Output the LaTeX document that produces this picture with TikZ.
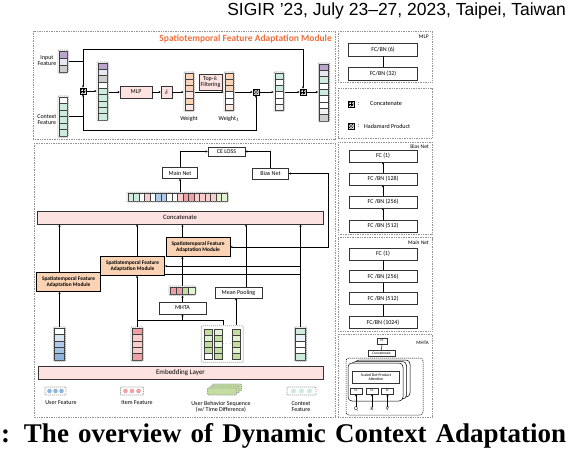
\documentclass[tikz,border=0pt]{standalone}
\usepackage{fontspec}
\setmainfont{Carlito}
\newfontfamily\headfont{Liberation Sans}
\newfontfamily\capfont{Liberation Serif}
\usetikzlibrary{arrows.meta, positioning, fit, calc, backgrounds}

\definecolor{cpurple}{RGB}{185,165,205}
\definecolor{cgray}{RGB}{205,205,205}
\definecolor{clav}{RGB}{232,232,242}
\definecolor{cmint}{RGB}{205,236,222}
\definecolor{cpeach}{RGB}{250,212,185}
\definecolor{cpeachl}{RGB}{252,232,225}
\definecolor{cbar}{RGB}{253,226,226}
\definecolor{corange}{RGB}{250,210,180}
\definecolor{ctitle}{RGB}{240,110,60}
\definecolor{cblue}{RGB}{140,180,222}
\definecolor{cbluem}{RGB}{175,202,232}
\definecolor{cbluel}{RGB}{215,228,242}
\definecolor{cred}{RGB}{240,160,165}
\definecolor{cpink}{RGB}{250,205,205}
\definecolor{cgreen}{RGB}{195,220,160}
\definecolor{cgreenl}{RGB}{228,240,210}

\newcommand{\fsz}[1]{\fontsize{#1}{#1}\selectfont}

% vertical feature vector: [group style] name, x, top y, cell w, cell h, colours
\newcommand{\fvec}[7][vgroup]{%
  \foreach \c [count=\i] in {#7}{%
    \node[cell, fill=\c, minimum width=#5pt, minimum height=#6pt] (#2-\i) at (#3,{#4+(\i-0.5)*#6}) {};
    \xdef\lastcell{\i}}
  \node[#1, fit=(#2-1)(#2-\lastcell)] (#2) {};}
% horizontal feature vector: name, left x, centre y, cell w, cell h, colours
\newcommand{\hvec}[6]{%
  \foreach \c [count=\i] in {#6}{%
    \node[cell, fill=\c, minimum width=#4pt, minimum height=#5pt] (#1-\i) at ({#2+(\i-0.5)*#4},#3) {};
    \xdef\lastcell{\i}}
  \node[vgroup, fit=(#1-1)(#1-\lastcell)] (#1) {};}

\begin{document}
\begin{tikzpicture}[x=1pt, y=-1pt,
    cell/.style={draw=black!75, line width=0.35pt, inner sep=0, outer sep=0},
    vgroup/.style={draw=gray!75, dash pattern=on 1.2pt off 0.8pt, line width=0.8pt, rounded corners=1pt, inner sep=1.1pt},
    nogroup/.style={inner sep=0},
    panel/.style={draw=gray!85, dash pattern=on 1pt off 0.7pt, line width=0.6pt},
    blk/.style={draw=black!80, line width=0.5pt, fill=white, inner sep=0.5pt, font=\fsz{6}, align=center},
    pinkbox/.style={blk, fill=cbar},
    sfam/.style={draw, line width=0.7pt, fill=corange, font=\fsz{5.4}\bfseries, align=center, inner sep=0.3pt, minimum width=64pt, minimum height=18.5pt},
    lbl/.style={font=\fsz{6}, align=center, inner sep=0},
    arr/.style={-{Stealth[length=2.2pt, width=2.2pt]}, line width=0.7pt},
    con/.style={line width=0.7pt},
    catsym/.style={draw, fill=gray!25, minimum size=6.5pt, inner sep=0, line width=0.4pt,
      path picture={\coordinate (pc) at (path picture bounding box.center);
        \draw[line width=0.35pt, fill=white] (pc) circle (2.2pt);
        \draw[line width=0.35pt] ([yshift=2.2pt]pc) -- ([yshift=-2.2pt]pc) ([xshift=-2.2pt]pc) -- ([xshift=2.2pt]pc);}},
    hadsym/.style={draw, fill=gray!25, minimum size=6.5pt, inner sep=0, line width=0.4pt,
      path picture={\coordinate (pc) at (path picture bounding box.center);
        \draw[line width=0.35pt, fill=white] (pc) circle (2.2pt);
        \draw[line width=0.35pt] ([shift={(1.55pt,1.55pt)}]pc) -- ([shift={(-1.55pt,-1.55pt)}]pc) ([shift={(-1.55pt,1.55pt)}]pc) -- ([shift={(1.55pt,-1.55pt)}]pc);}}
]
\useasboundingbox (0,0) rectangle (566,450);

% Page header and caption
\node[anchor=east, font=\headfont\fsz{17.5}, inner sep=0] (head) at (566,11) {SIGIR ’23, July 23–27, 2023, Taipei, Taiwan};
\node[anchor=base west, font=\capfont\bfseries\fsz{27}, inner sep=0] (caption) at (1,442) {\makebox[565pt][s]{: The overview of Dynamic Context Adaptation}};

% Panels
\draw[panel] (33,31) rectangle (335,139.5);
\draw[panel] (34,143) rectangle (335,417);
\draw[panel] (338,31) rectangle (432,82);
\draw[panel] (338,88) rectangle (432,138);
\draw[panel] (338,142) rectangle (432,234);
\draw[panel] (338,237.5) rectangle (432,331);
\draw[panel] (338,334) rectangle (432,417);

% Spatiotemporal feature adaptation module
\node[anchor=east, font=\fsz{9.5}\bfseries, text=ctitle, inner sep=0] (title) at (332,39) {Spatiotemporal Feature Adaptation Module};
\fvec{inp}{63}{51}{8}{7}{cpurple,clav,cgray}
\fvec{ctx}{63}{97}{8}{6.5}{white,cmint,cmint,cmint,cmint,cmint}
\node[lbl, anchor=east] (inplbl) at (56.5,60.5) {Input\\Feature};
\node[lbl, anchor=east] (ctxlbl) at (56.5,120) {Context\\Feature};
\node[catsym] (cat1) at (83,91) {};
\fvec{catv}{102.5}{63}{9}{6.3}{cpurple,clav,cgray,white,cmint,cmint,cmint,cmint,cmint}
\node[pinkbox, minimum width=32pt, minimum height=12pt] (mlp) at (136,92) {MLP};
\node[pinkbox, minimum width=11pt, minimum height=12pt] (sig) at (166.5,92) {$\delta$};
\fvec{wgt}{189}{73}{8}{6.2}{cpeach,cpeach,cpeach,cpeachl,cpeach,cpeachl}
\node[lbl] (wgtlbl) at (189,119) {Weight};
\node[pinkbox, minimum width=23pt, minimum height=16pt] (topk) at (210.5,82) {Top-$k$\\Filtering};
\fvec{wgtt}{229}{73}{8}{6.2}{cpeach,cpeach,cpeach,white,white,cpeachl}
\node[lbl] (wgttlbl) at (229,119) {Weight$_t$};
\node[hadsym] (had) at (256,92) {};
\fvec{hadv}{279}{73}{8}{6.2}{cmint,white,cmint,white,white,gray!10}
\node[catsym] (cat2) at (303,92) {};
\fvec{outv}{324}{64}{9}{6.3}{cpurple,clav,cmint,white,cmint,white,white,gray!10,cgray}

\coordinate (topbus) at (83,49);
\coordinate (botbus) at (83,130);
\draw[arr] (inp.east) -| (cat1.north);
\draw[arr] (ctx.east) -| (cat1.south);
\draw[arr] (inp.east -| cat1) -- (topbus) -| (cat2.north);
\draw[arr] (ctx.east -| cat1) -- (botbus) -| (had.south);
\draw[arr] (cat1) -- (cat1 -| catv.west);
\draw[arr] (catv.east |- mlp) -- (mlp);
\draw[arr] (mlp) -- (sig);
\draw[arr] (sig) -- (sig -| wgt.west);
\draw[arr] (wgt.east |- had) -- (wgtt.west |- had);
\draw[arr] (wgtt.east |- had) -- (had);
\draw[arr] (had) -- (had -| hadv.west);
\draw[arr] (hadv.east |- cat2) -- (cat2);
\draw[arr] (cat2) -- (cat2 -| outv.west);

% MLP
\node[lbl, anchor=east, font=\fsz{5.5}] (mlptag) at (429,37) {MLP};
\node[blk, minimum width=69pt, minimum height=13pt] (fc6) at (383,49.5) {FC/BN (6)};
\node[blk, minimum width=69pt, minimum height=13pt] (fc32) at (383,73.5) {FC/BN (32)};
\draw[con, line width=0.5pt] (fc32) -- (fc6);

% Symbols
\node[catsym] (legcat) at (351,104) {};
\node[lbl] (legcatc) at (358.5,104) {:};
\node[lbl, anchor=west, font=\fsz{6.2}] (legcatt) at (370,104) {Concatenate};
\node[hadsym] (leghad) at (351,126) {};
\node[lbl] (leghadc) at (358.5,126) {:};
\node[lbl, anchor=west, font=\fsz{6}] (leghadt) at (364,126) {Hadamard Product};

% Bias net
\node[lbl, anchor=east, font=\fsz{5.5}] (biastag) at (429,147) {Bias Net};
\node[blk, minimum width=68pt, minimum height=12pt] (bfc1) at (383,156) {FC (1)};
\node[blk, minimum width=68pt, minimum height=12pt] (bfc128) at (383,179) {FC /BN (128)};
\node[blk, minimum width=68pt, minimum height=12pt] (bfc256) at (383,202) {FC /BN (256)};
\node[blk, minimum width=68pt, minimum height=12pt] (bfc512) at (383,226) {FC /BN (512)};
\draw[arr, line width=0.5pt] (bfc512) -- (bfc256);
\draw[arr, line width=0.5pt] (bfc256) -- (bfc128);
\draw[arr, line width=0.5pt] (bfc128) -- (bfc1);

% Main net
\node[lbl, anchor=east, font=\fsz{5.5}\itshape] (maintag) at (429,242.5) {Main Net};
\node[blk, minimum width=68pt, minimum height=12pt] (mfc1) at (383,254) {FC (1)};
\node[blk, minimum width=68pt, minimum height=12pt] (mfc256) at (383,276.5) {FC /BN (256)};
\node[blk, minimum width=68pt, minimum height=12pt] (mfc512) at (383,298.5) {FC /BN (512)};
\node[blk, minimum width=68pt, minimum height=12pt] (mfc1024) at (383,322.5) {FC/BN (1024)};
\draw[con, line width=0.5pt] (mfc1024) -- (mfc512);
\draw[con, line width=0.5pt] (mfc512) -- (mfc256);
\draw[con, line width=0.5pt] (mfc256) -- (mfc1);

% MHTA
\node[lbl, anchor=east, font=\fsz{5}] (mhtatag) at (429,343) {MHTA};
\node[blk, minimum width=10pt, minimum height=6pt, font=\fsz{3}] (hfc) at (382,341) {FC};
\node[blk, minimum width=27pt, minimum height=6pt, font=\fsz{3.6}] (hcat) at (381.5,353) {Concatenate};
\draw[con, line width=0.5pt] (hcat) -- (hfc);
\draw[dash pattern=on 1.2pt off 0.8pt, line width=0.5pt, rounded corners=3pt] (346,358) rectangle (423,415);
\draw[line width=0.5pt, fill=white, rounded corners=4pt] (355,360) rectangle (410,397);
\draw[line width=0.5pt, fill=white, rounded corners=4pt] (351.5,361.5) rectangle (406.5,399);
\draw[line width=0.5pt, fill=white, rounded corners=4pt] (348,363) rectangle (403,401);
\node[blk, minimum width=47pt, minimum height=12pt, font=\fsz{3.9}] (sdpa) at (376,377) {Scaled Dot-Product\\Attention};
\node[blk, minimum width=12pt, minimum height=6pt, font=\fsz{3}] (hq) at (356,391) {FC};
\node[blk, minimum width=12pt, minimum height=6pt, font=\fsz{3}] (hk) at (372,391) {FC};
\node[blk, minimum width=12pt, minimum height=6pt, font=\fsz{3}] (hv) at (387.5,391) {FC};
\node[lbl, font=\fsz{5.5}] (lq) at (356,409) {Q};
\node[lbl, font=\fsz{5.5}] (lk) at (372,409) {K};
\node[lbl, font=\fsz{5.5}] (lv) at (387.5,409) {V};
\draw[arr, line width=0.5pt] (lq) -- (hq);
\draw[arr, line width=0.5pt] (lk) -- (hk);
\draw[arr, line width=0.5pt] (lv) -- (hv);

% Overall model
\node[blk, minimum width=37pt, minimum height=9pt] (ce) at (226.5,151.5) {CE LOSS};
\node[blk, minimum width=35pt, minimum height=11pt] (mainnet) at (180,173) {Main Net};
\node[blk, minimum width=36pt, minimum height=11pt] (biasnet) at (270.5,173.5) {Bias Net};
\draw[arr] (mainnet.north) |- (ce.west);
\draw[arr] (biasnet.north) |- (ce.east);
\hvec{joint}{128}{197}{5.5}{7.5}{cmint,cmint,white,cpink,white,cbluem,cbluem,white,white,cpink,cred,cred,cpink,cpink,cpink,cpink,cgreenl,cgreenl}
\draw[arr] (joint.north -| mainnet) -- (mainnet.south);
\node[pinkbox, minimum width=286pt, minimum height=13.5pt, font=\fsz{6.6}] (concat) at (180,217.5) {Concatenate};
\node[sfam] (sfam3) at (198,247) {Spatiotemporal Feature\\Adaptation Module};
\node[sfam] (sfam2) at (132.5,266) {Spatiotemporal Feature\\Adaptation Module};
\node[sfam, minimum height=19pt] (sfam1) at (68.5,282) {Spatiotemporal Feature\\Adaptation Module};

\fvec{user}{59.5}{328}{10}{6.4}{white,cbluel,cbluem,cblue!80,cblue}
\fvec{item}{137}{328}{10}{6.4}{cred,cpink,cpink,cpink,cred}
\fvec{ctxv}{300.5}{328}{10}{6.4}{cmint,cbluel!50,white,white,cmint}
\fvec[nogroup]{seqa}{208.5}{329}{8}{6}{cgreen,cgreenl,cgreen,cgreen,white}
\fvec[nogroup]{seqb}{218}{329}{8}{6}{cgreenl,cgreen,cgreenl,cgreen,cgreen}
\fvec[nogroup]{seqc}{236}{329}{8}{6}{cgreen,cgreenl,cgreen,cgreenl,cgreen}
\node[vgroup, fit=(seqa)(seqc), inner sep=3pt] (seq) {};
\node[lbl, font=\fsz{4}] (seqdots) at (227,344) {$\cdots$};
\node[blk, minimum width=47pt, minimum height=12pt] (mhta) at (182.5,308) {MHTA};
\hvec{att}{170}{290.5}{6.2}{7}{cred,cred,cgreen,cgreenl}
\node[blk, minimum width=47pt, minimum height=11pt] (pool) at (238.5,292.5) {Mean Pooling};
\node[pinkbox, minimum width=285pt, minimum height=13pt, font=\fsz{7}] (embed) at (180.5,372.5) {Embedding Layer};

\draw[arr] (user.north) -- (sfam1.south -| user);
\draw[arr] (sfam1.north -| user) -- (concat.south -| user);
\draw[arr] (item.north) -- (sfam2.south -| item);
\draw[arr] (sfam2.north -| item) -- (concat.south -| item);
\draw[arr] (mhta.north) -- (att.south -| mhta);
\draw[arr] (att.north) -- (sfam3.south -| att);
\draw[arr] (sfam3.north -| att) -- (concat.south -| att);
\draw[arr] (seqc.north |- seq.north) -- (pool.south -| seqc);
\draw[arr] ([xshift=7.5pt]pool.north) -- ([xshift=7.5pt]pool.north |- concat.south);
\draw[arr] (ctxv.north) -- (concat.south -| ctxv);
\coordinate (seqtap) at (seq.north -| 223,0);
\draw[con] (item.north |- 0,320) -- (seqtap |- 0,320) -- (seqtap);
\draw[arr] (mhta.south |- 0,320) -- (mhta.south);
\coordinate (ctxtap) at (ctxv.north |- sfam3.east);
\draw[arr] (ctxtap) -- (sfam3.east);
\draw[arr] (ctxtap) -- ++(28,0) |- (biasnet.east);
\draw[arr] (ctxv.north |- sfam2.east) -- (sfam2.east);
\begin{scope}[on background layer]
\draw[arr] (ctxv.north |- 0,274) -- (sfam1.east |- 0,274);
\end{scope}

% Legend
\node[vgroup, minimum width=21pt, minimum height=8pt] (leguser) at (55.5,391) {};
\foreach \dx in {-6,0,6} \fill[cblue] ([xshift=\dx pt]leguser.center) circle (2.3pt);
\node[lbl] (legusert) at (61,403) {User Feature};
\node[vgroup, minimum width=23pt, minimum height=8pt] (legitem) at (132,391) {};
\foreach \dx in {-6.5,0,6.5} \fill[cred] ([xshift=\dx pt]legitem.center) circle (2.3pt);
\node[lbl] (legitemt) at (137,403) {Item Feature};
\node[vgroup, fill=cgreen, minimum width=29pt, minimum height=7pt] (legseq3) at (227,387.5) {};
\node[vgroup, fill=cgreen, minimum width=29pt, minimum height=7pt] (legseq2) at (224.5,389.5) {};
\node[vgroup, fill=cgreen, minimum width=29pt, minimum height=7pt] (legseq) at (222,391.5) {};
\node[lbl] (legseqt) at (221,407) {User Behavior Sequence\\(w/ Time Difference)};
\node[vgroup, minimum width=29pt, minimum height=8pt] (legctx) at (301.5,391) {};
\foreach \dx in {-8,0,8} \fill[cmint] ([xshift=\dx pt]legctx.center) circle (2.5pt);
\node[lbl] (legctxt) at (301,407) {Context\\Feature};
\end{tikzpicture}
\end{document}
